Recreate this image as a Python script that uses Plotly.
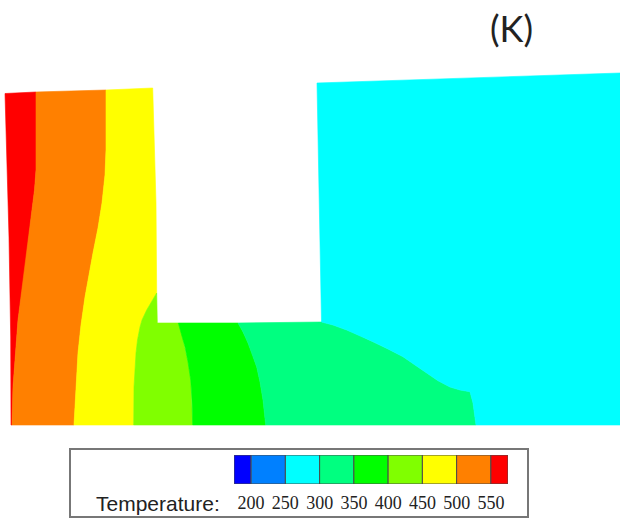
import plotly.graph_objects as go

# Temperature levels of the legend
tick_levels = [200, 250, 300, 350, 400, 450, 500, 550]
band_low = [175, 200, 250, 300, 350, 400, 450, 500, 550]
band_high = [200, 250, 300, 350, 400, 450, 500, 550, 575]
band_colors = ["#0000ff", "#0080ff", "#00ffff", "#00ff80", "#00ff00",
               "#80ff00", "#ffff00", "#ff8000", "#ff0000"]

# Contour boundaries (image coordinates)
left_edge = [(5, 93.5), (7, 157), (9, 237), (10.7, 337), (11, 425)]
red_orange = [(36, 92), (36, 170), (34.5, 190), (32, 210), (25, 270), (18, 320), (13, 387), (12, 425)]
orange_yellow = [(106, 90), (106, 150), (105, 175), (102, 203), (98, 228), (93, 253), (85, 297),
                 (81, 325), (78, 353), (74, 425)]
slot_left = [(152.7, 88), (154, 120), (156, 203), (156.7, 293)]
yellow_lime = [(156.7, 293), (146.7, 310), (142, 320), (140, 327), (137.5, 340), (136, 353),
               (134, 387), (133.7, 425)]
lime_green = [(178.3, 323), (182, 335), (185, 347), (188, 362), (190.7, 380), (192, 400), (192.7, 425)]
green_spring = [(238, 323), (243, 332), (248, 343), (252.5, 355), (256.7, 367), (260, 382),
                (263, 400), (265.7, 425)]
spring_cyan = [(321.5, 322), (333, 325), (346.7, 330), (360, 335.7), (373, 341.7), (388, 349),
               (403, 356.7), (415, 365), (427, 373), (438, 380.7), (450, 387), (460, 390),
               (470, 391.7), (473, 403), (476, 425)]
cyan_outer = [(476, 425), (620, 425), (620, 73), (317, 83)]
slot_corner = (157.3, 323)

regions = [
    ("#ff0000", left_edge + red_orange[::-1]),
    ("#ff8000", red_orange + orange_yellow[::-1]),
    ("#ffff00", orange_yellow + yellow_lime[::-1] + slot_left[::-1]),
    ("#80ff00", yellow_lime + lime_green[::-1] + [slot_corner]),
    ("#00ff00", lime_green + green_spring[::-1]),
    ("#00ff80", green_spring + spring_cyan[::-1]),
    ("#00ffff", spring_cyan + cyan_outer[1:]),
]

W, H = 620, 518
fig = go.Figure()

for color, pts in regions:
    xs = [p[0] for p in pts] + [pts[0][0]]
    ys = [p[1] for p in pts] + [pts[0][1]]
    fig.add_trace(go.Scatter(x=xs, y=ys, mode="lines", fill="toself", fillcolor=color,
                             line=dict(color=color, width=0.6), hoverinfo="skip",
                             showlegend=False))

fig.add_trace(go.Bar(
    x=[h - l for l, h in zip(band_low, band_high)], base=band_low, y=[0.5] * len(band_low),
    orientation="h", width=1, xaxis="x2", yaxis="y2",
    marker=dict(color=band_colors, line=dict(color="#4a4a4a", width=1)),
    hoverinfo="skip", showlegend=False))

fig.update_layout(
    width=W, height=H, margin=dict(l=0, r=0, t=0, b=0),
    paper_bgcolor="white", plot_bgcolor="rgba(0,0,0,0)",
    xaxis=dict(domain=[0, 1], range=[0, W], visible=False, fixedrange=True),
    yaxis=dict(domain=[0, 1], range=[H, 0], visible=False, fixedrange=True),
    xaxis2=dict(domain=[234 / W, 508 / W], range=[175, 575], anchor="y2",
                tickmode="array", tickvals=tick_levels, ticktext=[str(t) for t in tick_levels],
                ticks="outside", ticklen=2, tickcolor="rgba(0,0,0,0)", showgrid=False,
                zeroline=False, showline=False,
                tickfont=dict(family="Liberation Serif", size=18, color="#222222")),
    yaxis2=dict(domain=[(H - 484) / H, (H - 455) / H], range=[0, 1], anchor="x2",
                visible=False),
    shapes=[dict(type="rect", xref="x", yref="y", x0=70, x1=528, y0=449, y1=517,
                 line=dict(color="#777777", width=2), fillcolor="rgba(0,0,0,0)", layer="below")],
    annotations=[
        dict(text="Temperature:", x=222, y=503, xref="x", yref="y", xanchor="right",
             yanchor="middle", showarrow=False,
             font=dict(family="Liberation Sans", size=21, color="#222222")),
        dict(text="(K)", x=511, y=28, xref="x", yref="y", xanchor="center",
             yanchor="middle", showarrow=False,
             font=dict(family="Lato", size=36, color="#222222")),
    ],
)
fig.write_html("out.html", config={"displayModeBar": False},
               post_script="document.body.style.margin='0';document.body.style.overflow='hidden';")
